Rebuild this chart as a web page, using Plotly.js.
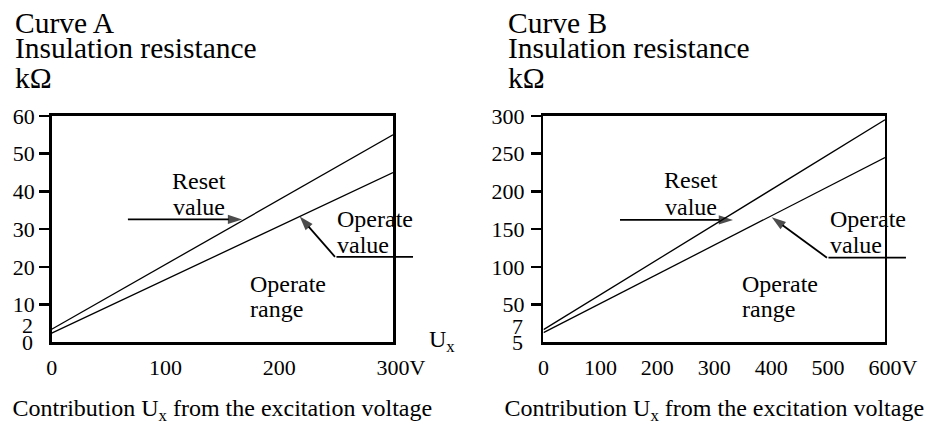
<!DOCTYPE html>
<html><head><meta charset="utf-8">
<script src="https://cdn.plot.ly/plotly-3.0.1.min.js"></script>
<style>html,body{margin:0;padding:0;background:#fff}#chart{width:942px;height:425px}</style>
</head><body><div id="chart"></div>
<script>
// ---- data ----
const voltageA = [0, 300];
const resetA = [3.5, 55];
const operateA = [2.5, 45];
const voltageB = [0, 600];
const resetB = [17, 295];
const operateB = [13, 245];
const xTickValsA = [0, 100, 200, 300];
const xTickTextA = ['0', '100', '200', '300V'];
const yTickValsA = [10, 20, 30, 40, 50, 60];
const xTickValsB = [0, 100, 200, 300, 400, 500, 600];
const xTickTextB = ['0', '100', '200', '300', '400', '500', '600V'];
const yTickValsB = [50, 100, 150, 200, 250, 300];
const lowLabelsA = ['0', '2'];
const lowLabelsB = ['5', '7'];
const titleLinesA = ['Curve A', 'Insulation resistance', 'kΩ'];
const titleLinesB = ['Curve B', 'Insulation resistance', 'kΩ'];
const xTitle = 'Contribution U<sub>x</sub> from the excitation voltage';

// annotation anchor points (data coords)
const resetArrowA = {tail: [67, 32.6], head: [167.4, 32.6]};
const operateArrowA = {end: [317.6, 22.7], corner: [249, 22.7], head: [218, 33.4]};
const resetArrowB = {tail: [134.4, 162.3], head: [333, 162.3]};
const operateArrowB = {end: [636.8, 112.3], corner: [498, 112.3], head: [401, 166]};

const FONT = 'Liberation Serif, Times New Roman, Times, serif';
const BLK = '#000';

// keep the number of a "300V"-style label centred on its tick
function unitLabel(t) {
  return /V$/.test(t) ? '<span style="color:rgba(0,0,0,0)">V</span>' + t : t;
}

function lineTrace(x, y, xa, ya) {
  return {x: x, y: y, xaxis: xa, yaxis: ya, mode: 'lines', type: 'scatter',
    line: {color: BLK, width: 1.3}, hoverinfo: 'skip', showlegend: false};
}
function arrowTrace(p0, p1, xa, ya) {
  return {x: [p0[0], p1[0]], y: [p0[1], p1[1]], xaxis: xa, yaxis: ya,
    mode: 'lines+markers', type: 'scatter', line: {color: BLK, width: 1.8},
    marker: {symbol: 'arrow', size: [0, 15], color: BLK, angleref: 'previous', line: {width: 0}},
    hoverinfo: 'skip', showlegend: false};
}

const traces = [
  lineTrace(voltageA, resetA, 'x', 'y'),
  lineTrace(voltageA, operateA, 'x', 'y'),
  lineTrace(voltageB, resetB, 'x2', 'y2'),
  lineTrace(voltageB, operateB, 'x2', 'y2'),
  arrowTrace(resetArrowA.tail, resetArrowA.head, 'x', 'y'),
  arrowTrace(operateArrowA.corner, operateArrowA.head, 'x', 'y'),
  arrowTrace(resetArrowB.tail, resetArrowB.head, 'x2', 'y2'),
  arrowTrace(operateArrowB.corner, operateArrowB.head, 'x2', 'y2')
];

const f22 = {family: FONT, size: 22, color: BLK};
const f24 = {family: FONT, size: 24, color: BLK};
const ann = [];
function txt(t, x, y, xr, yr, xanchor, extra, font) {
  ann.push(Object.assign({text: t, x: x, y: y, xref: xr, yref: yr, xanchor: xanchor,
    yanchor: 'middle', showarrow: false, font: font || f24}, extra || {}));
}
// titles
[titleLinesA, titleLinesB].forEach(function (lines, i) {
  const xs = [13 / 942, 506 / 942][i];
  const ys = [0.9459, 0.8864, 0.8176];
  lines.forEach(function (t, j) {
    ann.push({text: t, x: xs, y: ys[j], xref: 'paper', yref: 'paper', xanchor: 'left',
      yanchor: 'middle', showarrow: false, font: {family: FONT, size: 29.5, color: BLK}});
  });
});
// low y labels
txt(lowLabelsA[0], 35 / 942, 0, 'paper', 'y', 'right', null, f22);
txt(lowLabelsA[1], 35 / 942, 2, 'paper', 'y', 'right', {yshift: 9}, f22);
txt(lowLabelsB[0], 525 / 942, 5, 'paper', 'y2', 'right', {yshift: -4}, f22);
txt(lowLabelsB[1], 525 / 942, 7, 'paper', 'y2', 'right', {yshift: 11}, f22);
// Ux
txt('U<sub>x</sub>', 427 / 942, 1 - 341 / 425, 'paper', 'paper', 'left');
// chart A labels
txt('Reset', 129.5, 42.9, 'x', 'y', 'center');
txt('value', 129.5, 36.0, 'x', 'y', 'center');
txt('Operate', 249, 32.7, 'x', 'y', 'left');
txt('value', 249, 25.9, 'x', 'y', 'left');
txt('Operate', 172.7, 15.5, 'x', 'y', 'left');
txt('range', 172.7, 8.9, 'x', 'y', 'left');
// chart B labels
txt('Reset', 259, 214.6, 'x2', 'y2', 'center');
txt('value', 259, 180.1, 'x2', 'y2', 'center');
txt('Operate', 500, 163.6, 'x2', 'y2', 'left');
txt('value', 500, 129.7, 'x2', 'y2', 'left');
txt('Operate', 345, 77.5, 'x2', 'y2', 'left');
txt('range', 345, 44.4, 'x2', 'y2', 'left');
// horizontal leader segments (unclipped)
[[operateArrowA, 'x', 'y'], [operateArrowB, 'x2', 'y2']].forEach(function (a) {
  ann.push({text: '', x: a[0].end[0], y: a[0].end[1], ax: a[0].corner[0], ay: a[0].corner[1],
    xref: a[1], yref: a[2], axref: a[1], ayref: a[2], showarrow: true, arrowhead: 0,
    arrowwidth: 1.8, arrowcolor: BLK, standoff: 0, startstandoff: 0});
});

function xaxisDef(domain, range, vals, text) {
  return {domain: domain, range: range, tickvals: vals, ticktext: text.map(unitLabel), ticks: '',
    ticklabelstandoff: 4, tickfont: f22, showline: true, mirror: true, linewidth: 2.5,
    linecolor: BLK, showgrid: false, zeroline: false, fixedrange: true,
    title: {text: xTitle, font: f24, standoff: 34}};
}
function yaxisDef(range, vals, anchor) {
  return {domain: [0.19412, 0.72706], range: range, tickvals: vals, ticks: 'outside',
    ticklen: 10, tickwidth: 2.5, tickcolor: BLK, tickfont: f22, showline: true, mirror: true,
    linewidth: 2.5, linecolor: BLK, showgrid: false, zeroline: false, anchor: anchor,
    fixedrange: true};
}

const layout = {
  width: 942, height: 425, margin: {l: 0, r: 0, t: 0, b: 0},
  paper_bgcolor: '#fff', plot_bgcolor: '#fff', showlegend: false,
  font: {family: FONT, color: BLK},
  xaxis: Object.assign(xaxisDef([0.05488, 0.41720], [0, 300], xTickValsA, xTickTextA), {anchor: 'y'}),
  yaxis: yaxisDef([0, 60], yTickValsA, 'x'),
  xaxis2: Object.assign(xaxisDef([0.57696, 0.93949], [0, 600], xTickValsB, xTickTextB), {anchor: 'y2'}),
  yaxis2: Object.assign(yaxisDef([0, 300], yTickValsB, 'x2'), {ticklabelstandoff: 2}),
  annotations: ann
};

Plotly.newPlot('chart', traces, layout, {displayModeBar: false, staticPlot: true});
</script></body></html>
